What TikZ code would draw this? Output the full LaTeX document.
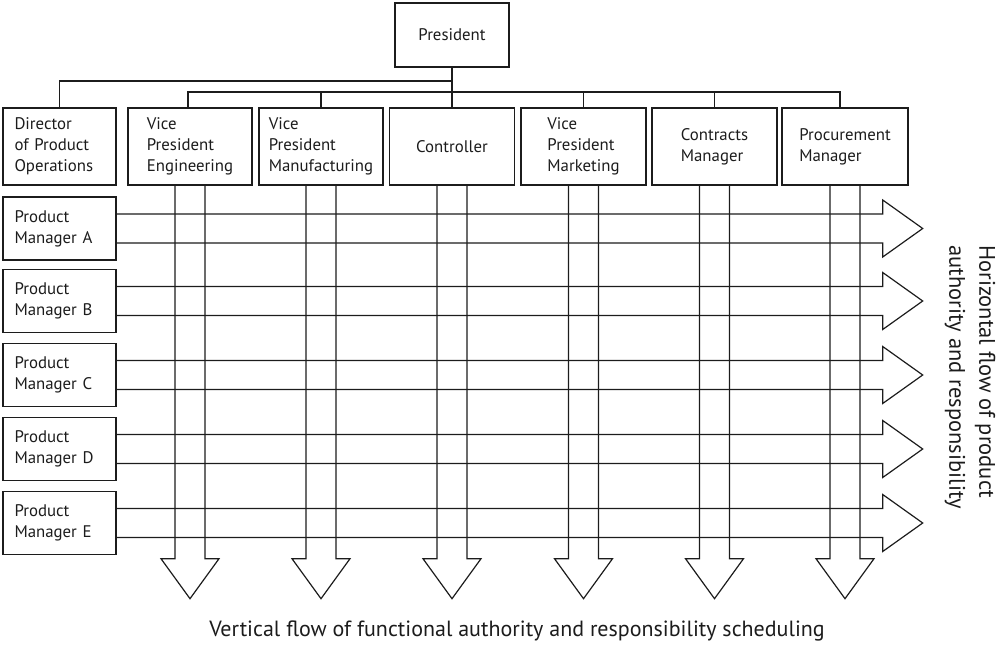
\documentclass[tikz,border=0pt]{standalone}
\usepackage{fontspec}
\setmainfont{PT Sans}
\usetikzlibrary{calc}
\definecolor{ink}{HTML}{1C1C1C}
\tikzset{
  orgbox/.style={draw=ink, text=ink, line width=1.4pt, inner sep=0pt, align=left,
    font=\fontsize{16.8}{21}\selectfont},
  toprow/.style={orgbox, minimum height=77pt},
  pmbox/.style={orgbox, minimum height=63pt, text width=90pt, inner xsep=11.5pt},
  link/.style={draw=ink, line width=1.2pt},
  flow/.style={draw=ink, line width=1.2pt, line join=miter},
  caption/.style={text=ink, inner sep=0pt, font=\fontsize{22}{30}\selectfont}
}
\begin{document}
\begin{tikzpicture}[x=1pt, y=-1pt]
\useasboundingbox (0,0) rectangle (997,652);

% president and the functional heads
\node[orgbox, minimum width=114pt, minimum height=64pt] (pres) at (452,35) {President};
\node[toprow, minimum width=113pt, text width=90pt, inner xsep=11.5pt] (dir) at (59.5,146.5) {Director\\of Product\\Operations};
\node[toprow, minimum width=124pt] (vpe) at (190,146.5) {Vice\\President\\Engineering};
\node[toprow, minimum width=124pt] (vpm) at (321,146.5) {Vice\\President\\Manufacturing};
\node[toprow, minimum width=125pt] (ctl) at (452,146.5) {Controller};
\node[toprow, minimum width=125pt] (vpk) at (583.5,146.5) {Vice\\President\\Marketing};
\node[toprow, minimum width=125pt] (cm) at (714.5,146.5) {Contracts\\Manager};
\node[toprow, minimum width=126pt] (pm) at (845,146.5) {Procurement\\Manager};

% product managers
\node[pmbox] (pa) at (59.5,228.5) {Product\\Manager A};
\node[pmbox] (pb) at (59.5,301) {Product\\Manager B};
\node[pmbox] (pc) at (59.5,375) {Product\\Manager C};
\node[pmbox] (pd) at (59.5,449) {Product\\Manager D};
\node[pmbox] (pe) at (59.5,523) {Product\\Manager E};

% reporting lines
\coordinate (j1) at (452,81);
\coordinate (j2) at (452,92);
\draw[link] (pres.south) -- (ctl.north);
\draw[link] (dir.north) |- (j1);
\draw[link] ([xshift=-2pt]vpe.north) |- ([xshift=-5pt]pm.north |- j2) -- ([xshift=-5pt]pm.north);
\foreach \b in {vpm,vpk,cm}
  \draw[link] (\b.north) -- (\b.north |- j2);

% vertical flow of functional authority
\foreach \b in {vpe,vpm,ctl,vpk,cm,pm}
  \draw[flow] ($(\b.south)+(-15,0)$) -- ($(\b.south)+(-15,373)$)
    -- ($(\b.south)+(-29,373)$) -- ($(\b.south)+(0,413)$)
    -- ($(\b.south)+(29,373)$) -- ($(\b.south)+(15,373)$)
    -- ($(\b.south)+(15,0)$);

% horizontal flow of product authority
\foreach \p in {pa,pb,pc,pd,pe}
  \draw[flow] ($(\p.east)+(0,-14.5)$) -- ($(\p.east)+(766,-14.5)$)
    -- ($(\p.east)+(766,-28.5)$) -- ($(\p.east)+(806,0)$)
    -- ($(\p.east)+(766,28.5)$) -- ($(\p.east)+(766,14.5)$)
    -- ($(\p.east)+(0,14.5)$);

% captions
\node[caption] (vcap) at (517,631) {Vertical flow of functional authority and responsibility scheduling};
\node[caption, rotate=-90, anchor=west, align=left, font=\fontsize{22.5}{30}\selectfont] (hcap) at (970,245) {Horizontal flow of product\\authority and responsibility};
\end{tikzpicture}
\end{document}
